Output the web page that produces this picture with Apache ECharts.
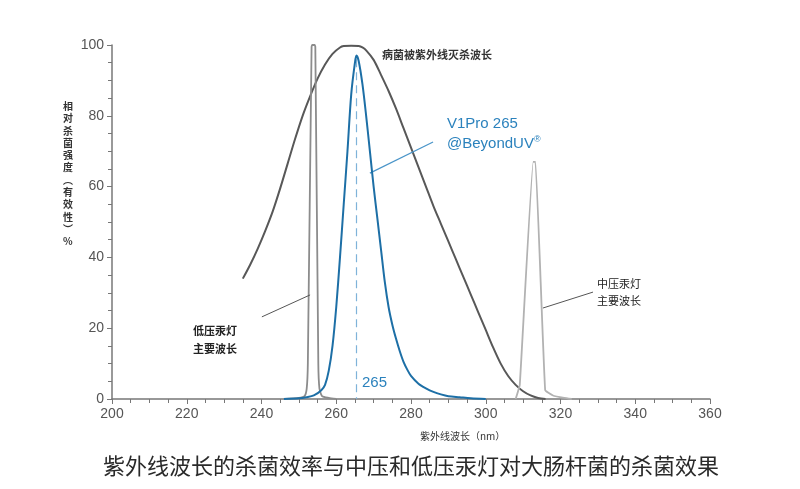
<!DOCTYPE html>
<html><head><meta charset="utf-8">
<script src="https://cdn.jsdelivr.net/npm/echarts@6/dist/echarts.min.js"></script>
<style>html,body{margin:0;padding:0;background:#fff}#c{width:800px;height:489px}</style>
</head><body><div id="c"></div>
<script>
// Germicidal effectiveness curve (nm, %)
const germicidal = [[235,34],[237,38],[239,42.5],[241,47.5],[243,53],[245,59.5],[247,66.5],[249,73.5],[251,80],[253,85.5],[255,90.5],[257,94.5],[259,97.5],[261,99.3],[262,99.7],[264,99.8],[266,99.7],[267,99.3],[268,98.5],[270,95.8],[272,91.5],[274,87],[276,82],[278,76.5],[280,71],[282,65.5],[284,60],[286,54.5],[288,49.5],[290,44.5],[292,39.5],[294,34.5],[296,29.5],[298,24.5],[300,19.5],[302,14.5],[304,10],[306,6.5],[308,4],[310,2.2],[312,1],[314,0.3],[316,0]];
// V1Pro 265 spectrum
const v1pro = [[246,0],[250,0.2],[252,0.5],[254,1],[256,2.5],[257,4],[258,8],[259,15],[260,26],[261,40],[262,55],[263,70],[264,86],[265,95],[265.4,97],[266,95.5],[267,89],[268,80],[269,70],[270,60],[271,51],[272,42],[273,33],[274,26],[275,21],[276,17],[277,13.5],[278,10.5],[279,8.3],[280,6.5],[282,4.3],[284,3],[286,2],[288,1.3],[290,0.8],[293,0.5],[296,0.2],[300,0]];
// Low-pressure mercury lamp line
const lowPressure = [[246,0],[250,0.3],[251.5,0.8],[252.1,3],[252.4,10],[253.4,99.5],[253.6,100],[254.2,100],[254.4,99.5],[255.2,10],[255.5,3],[256.2,0.8],[258,0.3],[260,0]];
// Medium-pressure mercury lamp line
const midPressure = [[308,0],[309.1,4],[312.7,67],[313.3,67],[315.9,2.5],[318,1],[321,0.3],[323,0]];
const xTicks = [200,220,240,260,280,300,320,340,360];
const yTicks = [0,20,40,60,80,100];

const chart = echarts.init(document.getElementById('c'), null, {renderer:'canvas'});
const blue = '#2b82bd';
chart.setOption({
  animation:false,
  grid:{left:112,right:90,top:45,bottom:90},
  xAxis:{type:'value',min:xTicks[0],max:xTicks[xTicks.length-1],interval:20,
    axisLine:{lineStyle:{color:'#777',width:1.5}},
    axisTick:{length:5,lineStyle:{color:'#777'}},
    minorTick:{show:true,splitNumber:4,length:4,lineStyle:{color:'#777'}},
    axisLabel:{color:'#555',fontSize:14,fontFamily:'Liberation Sans',margin:8},
    splitLine:{show:false}},
  yAxis:{type:'value',min:yTicks[0],max:yTicks[yTicks.length-1],interval:20,
    axisLine:{show:true,lineStyle:{color:'#777',width:1.5}},
    axisTick:{show:true,length:5,lineStyle:{color:'#777'}},
    minorTick:{show:true,splitNumber:4,length:4,lineStyle:{color:'#777'}},
    axisLabel:{color:'#555',fontSize:14,fontFamily:'Liberation Sans',margin:8},
    splitLine:{show:false}},
  series:[
    {type:'line',data:germicidal,smooth:0.3,symbol:'none',lineStyle:{color:'#585858',width:2},
     markLine:{silent:true,symbol:'none',label:{show:false},lineStyle:{color:'#555',width:1,type:'solid'},
       data:[
         [{coord:[240.1,23.2]},{coord:[253.0,29.4]}],
         [{coord:[315.3,25.7]},{coord:[328.7,30.2]}]
       ]}},
    {type:'line',data:lowPressure,smooth:0.2,symbol:'none',lineStyle:{color:'#8c8c8c',width:1.8}},
    {type:'line',data:midPressure,smooth:0.1,symbol:'none',lineStyle:{color:'#b2b2b2',width:1.8}},
    {type:'line',data:v1pro,smooth:0.3,symbol:'none',lineStyle:{color:'#1d6fa6',width:2},z:5,
     markLine:{silent:true,symbol:'none',label:{show:false},
       data:[
         [{coord:[265.4,96],lineStyle:{color:'#7fb3d9',width:1.2,type:[8,5]}},{coord:[265.4,0]}],
         [{coord:[269.0,63.8],lineStyle:{color:'#4a95c9',width:1.2,type:'solid'}},{coord:[285.9,72.6]}]
       ]}}
  ],
  graphic:[
    {type:'text',left:382,top:49,style:{text:'病菌被紫外线灭杀波长',font:'bold 11px "Noto Sans CJK SC"',fill:'#333'}},
    {type:'text',left:447,top:116,style:{text:'V1Pro 265',font:'15px "Liberation Sans"',fill:blue}},
    {type:'text',left:447,top:135,style:{text:'@BeyondUV{s|®}',font:'15px "Liberation Sans"',fill:blue,
       rich:{s:{fontSize:9,verticalAlign:'top',fill:blue,padding:[0,0,8,0]}}}},
    {type:'text',left:193,top:325,style:{text:'低压汞灯',font:'bold 11px "Noto Sans CJK SC"',fill:'#222'}},
    {type:'text',left:193,top:343,style:{text:'主要波长',font:'bold 11px "Noto Sans CJK SC"',fill:'#222'}},
    {type:'text',left:597,top:278,style:{text:'中压汞灯',font:'11px "Noto Sans CJK SC"',fill:'#222'}},
    {type:'text',left:597,top:295,style:{text:'主要波长',font:'11px "Noto Sans CJK SC"',fill:'#222'}},
    {type:'text',left:362,top:375,style:{text:'265',font:'15px "Liberation Sans"',fill:blue}},
    {type:'text',left:63,top:100,style:{text:'相\n对\n杀\n菌\n强\n度\n︵\n有\n效\n性\n︶\n%',font:'bold 10px "Noto Sans CJK SC"',fill:'#333',lineHeight:12.3}},
    {type:'text',left:420,top:431,style:{text:'紫外线波长（nm）',font:'10px "Noto Sans CJK SC"',fill:'#333'}},
    {type:'text',left:103,top:455,style:{text:'紫外线波长的杀菌效率与中压和低压汞灯对大肠杆菌的杀菌效果',font:'22px "Noto Sans CJK SC"',fill:'#2a2a2a'}}
  ]
});
</script></body></html>
